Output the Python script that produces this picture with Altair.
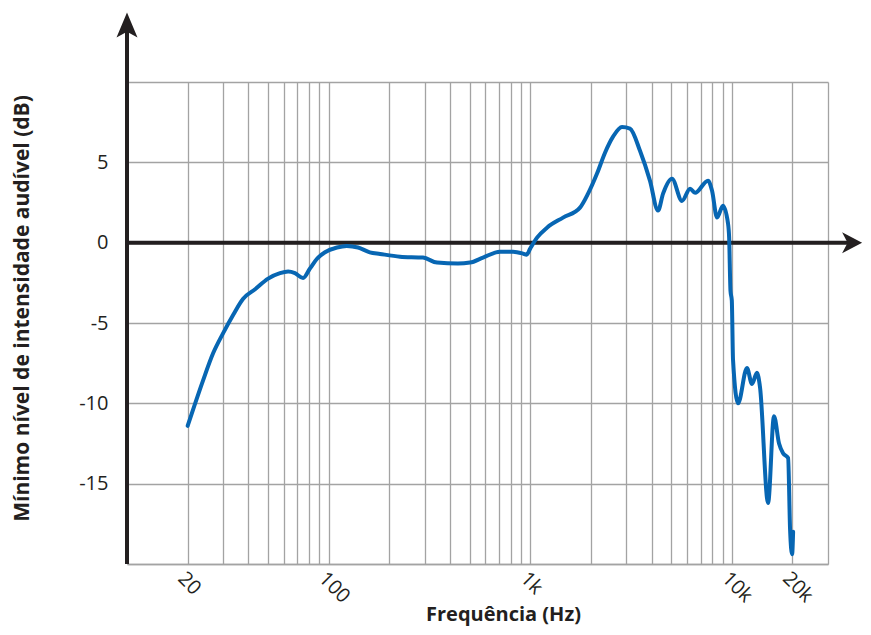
import altair as alt
import pandas as pd

# ---- data ----
freq_hz = [20, 23.8, 26.7, 29.9, 33.6, 37.6, 43.2, 50.1, 57.4, 63, 68.1, 74.7, 80.9, 87.6,
           96, 110, 123, 140, 160, 180, 226, 294, 345, 438, 503, 583, 708, 822, 921, 960,
           1000, 1081, 1211, 1455, 1766, 1936, 2145, 2350, 2576, 2853, 3126, 3508, 3926,
           4305, 4560, 5050, 5660, 6210, 6570, 7620, 7980, 8450, 9040, 9575, 9700, 9850,
           10000, 10140, 10740, 11890, 12590, 13330, 13800, 15130, 16190, 17150, 17960,
           19020, 19460, 19910, 20140]
level_db = [-11.4, -8.6, -6.9, -5.66, -4.5, -3.5, -2.9, -2.24, -1.9, -1.8, -1.9, -2.2, -1.6, -1.0,
            -0.6, -0.3, -0.2, -0.3, -0.6, -0.7, -0.87, -0.93, -1.24, -1.3, -1.24, -0.93, -0.56, -0.56, -0.68, -0.75,
            -0.37, 0.31, 0.93, 1.56, 2.18, 3.05, 4.3, 5.6, 6.6, 7.2, 7.1, 5.7, 3.86,
            2.0, 3.05, 3.98, 2.6, 3.36, 3.1, 3.86, 3.23, 1.56, 2.3, 1.2, 0.3, -3.0,
            -3.6, -7.3, -10.0, -7.8, -8.8, -8.1, -9.0, -16.2, -10.8, -12.5, -13.1,
            -13.4, -17.9, -19.4, -18.0]

x_grid_values = [20, 30, 40, 50, 60, 70, 80, 90, 100, 200, 300, 400, 500, 600, 700, 800, 900,
                 1000, 2000, 3000, 4000, 5000, 6000, 7000, 8000, 9000, 10000, 20000, 30000]
x_tick_labels = {20: "20", 100: "100", 1000: "1k", 10000: "10k", 20000: "20k"}
y_grid_values = [-20, -15, -10, -5, 0, 5, 10]
y_tick_labels = [-15, -10, -5, 0, 5]

x_domain = [10, 30000]
y_domain = [-20, 10]

# axis arrow extents (data space, beyond the plot domain)
arrow_top_db = 13.55
arrow_right_hz = 39500

FONT = "Open Sans"
INK = "#231f20"
GRID = "#a3a3a3"
BLUE = "#0766b3"

label_expr_x = " : ".join(
    [f"datum.value == {k} ? '{v}'" for k, v in x_tick_labels.items()]) + " : ''"
label_expr_y = "indexof([" + ",".join(str(v) for v in y_tick_labels) + "], datum.value) >= 0 ? '' + datum.value : ''"

xaxis = alt.Axis(values=x_grid_values, labelExpr=label_expr_x, grid=True, gridColor=GRID,
                 gridWidth=1.3, ticks=False, tickSize=0, domain=True, domainColor=GRID,
                 domainWidth=1.3, labelAngle=45, labelAlign="left", labelBaseline="top",
                 labelPadding=4, labelFont=FONT, labelFontSize=20, labelColor=INK,
                 labelOverlap=False, labelFlush=False, labelBound=False,
                 title="Frequência (Hz)", titleFont=FONT, titleFontSize=20,
                 titleFontWeight="bold", titleColor=INK, titleX=376, titleY=56,
                 titleAlign="center", titleBaseline="alphabetic", titleAngle=0)
yaxis = alt.Axis(values=y_grid_values, labelExpr=label_expr_y, grid=True, gridColor=GRID,
                 gridWidth=1.3, ticks=False, tickSize=0, domain=False,
                 labelPadding=19, labelFont=FONT, labelFontSize=20, labelColor=INK,
                 labelOverlap=False, labelFlush=False,
                 title="Mínimo nível de intensidade audível (dB)", titleFont=FONT,
                 titleFontSize=21, titleFontWeight="bold", titleColor=INK,
                 titleX=-99, titleY=226, titleAlign="center", titleBaseline="alphabetic",
                 titleAngle=270)

xs = alt.Scale(type="log", domain=x_domain, nice=False)
ys = alt.Scale(domain=y_domain, nice=False, zero=False)
X = alt.X("f:Q", scale=xs, axis=xaxis)
Y = alt.Y("db:Q", scale=ys, axis=yaxis)

curve_df = pd.DataFrame({"f": freq_hz, "db": level_db})
vaxis_df = pd.DataFrame({"f": [x_domain[0]], "db": [y_domain[0]], "db2": [arrow_top_db]})
haxis_df = pd.DataFrame({"f": [x_domain[0]], "f2": [arrow_right_hz], "db": [0]})
up_df = pd.DataFrame({"f": [x_domain[0]], "db": [arrow_top_db]})
right_df = pd.DataFrame({"f": [arrow_right_hz], "db": [0]})

vline = alt.Chart(vaxis_df).mark_rule(color=INK, strokeWidth=4).encode(x=X, y=Y, y2="db2:Q")
hline = alt.Chart(haxis_df).mark_rule(color=INK, strokeWidth=4).encode(x=X, x2="f2:Q", y=Y)
up_arrow = alt.Chart(up_df).mark_point(
    shape="M0,-1L0.84,1L0,0.55L-0.84,1Z", filled=True, size=625, color=INK, opacity=1,
    strokeWidth=0).encode(x=X, y=Y)
right_arrow = alt.Chart(right_df).mark_point(
    shape="M1,0L-1,1.05L-0.45,0L-1,-1.05Z", filled=True, size=400, color=INK, opacity=1,
    strokeWidth=0).encode(x=X, y=Y)
curve = alt.Chart(curve_df).mark_line(color=BLUE, strokeWidth=4, interpolate="monotone",
                                      strokeJoin="round", strokeCap="round").encode(x=X, y=Y)

chart = alt.layer(vline, hline, up_arrow, right_arrow, curve).properties(
    width=701, height=482,
    autosize=alt.AutoSizeParams(type="none"),
    padding={"left": 119, "top": 74, "right": 35, "bottom": 63},
    background="white",
).configure_view(strokeWidth=0)

chart.save("out.html", embed_options={"renderer": "svg", "actions": False})
